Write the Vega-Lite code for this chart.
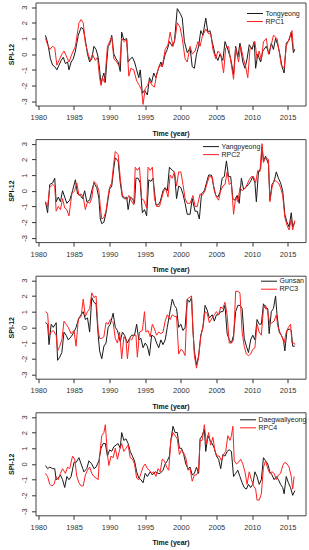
{
"$schema": "https://vega.github.io/schema/vega-lite/v6.json",
"padding": {"left": 6.5, "top": 1.5, "right": 4, "bottom": 0},
"background": "white",
"spacing": 1.6,
"datasets": {
"p1": [
{"s":"Tongyeong","t":1981.0,"v":1.2},{"s":"Tongyeong","t":1981.2,"v":0.9},{"s":"Tongyeong","t":1981.4,"v":0.5},{"s":"Tongyeong","t":1981.7,"v":-0.3},{"s":"Tongyeong","t":1982.0,"v":-0.7},{"s":"Tongyeong","t":1982.3,"v":-0.8},{"s":"Tongyeong","t":1982.6,"v":-1.0},{"s":"Tongyeong","t":1982.9,"v":-0.7},{"s":"Tongyeong","t":1983.2,"v":-0.4},{"s":"Tongyeong","t":1983.5,"v":-0.2},{"s":"Tongyeong","t":1983.8,"v":-0.6},{"s":"Tongyeong","t":1984.1,"v":-0.5},{"s":"Tongyeong","t":1984.3,"v":-1.0},{"s":"Tongyeong","t":1984.6,"v":-0.5},{"s":"Tongyeong","t":1984.9,"v":-0.3},{"s":"Tongyeong","t":1985.2,"v":0.2},{"s":"Tongyeong","t":1985.6,"v":1.2},{"s":"Tongyeong","t":1986.0,"v":1.7},{"s":"Tongyeong","t":1986.3,"v":1.6},{"s":"Tongyeong","t":1986.6,"v":0.9},{"s":"Tongyeong","t":1986.9,"v":0.0},{"s":"Tongyeong","t":1987.2,"v":-0.5},{"s":"Tongyeong","t":1987.5,"v":-0.3},{"s":"Tongyeong","t":1987.8,"v":0.5},{"s":"Tongyeong","t":1988.1,"v":0.3},{"s":"Tongyeong","t":1988.4,"v":-0.2},{"s":"Tongyeong","t":1988.6,"v":-1.0},{"s":"Tongyeong","t":1988.8,"v":-1.9},{"s":"Tongyeong","t":1989.0,"v":-1.5},{"s":"Tongyeong","t":1989.2,"v":-1.2},{"s":"Tongyeong","t":1989.4,"v":-1.8},{"s":"Tongyeong","t":1989.6,"v":-0.5},{"s":"Tongyeong","t":1989.8,"v":0.5},{"s":"Tongyeong","t":1990.0,"v":0.6},{"s":"Tongyeong","t":1990.3,"v":1.2},{"s":"Tongyeong","t":1990.6,"v":0.0},{"s":"Tongyeong","t":1990.9,"v":-0.3},{"s":"Tongyeong","t":1991.2,"v":-0.5},{"s":"Tongyeong","t":1991.5,"v":-1.1},{"s":"Tongyeong","t":1991.7,"v":1.4},{"s":"Tongyeong","t":1992.0,"v":0.9},{"s":"Tongyeong","t":1992.4,"v":1.0},{"s":"Tongyeong","t":1992.6,"v":-0.5},{"s":"Tongyeong","t":1992.9,"v":-0.3},{"s":"Tongyeong","t":1993.2,"v":-0.2},{"s":"Tongyeong","t":1993.5,"v":-0.5},{"s":"Tongyeong","t":1993.8,"v":-1.0},{"s":"Tongyeong","t":1994.1,"v":-1.5},{"s":"Tongyeong","t":1994.3,"v":-1.0},{"s":"Tongyeong","t":1994.6,"v":-2.5},{"s":"Tongyeong","t":1994.9,"v":-2.3},{"s":"Tongyeong","t":1995.3,"v":-2.6},{"s":"Tongyeong","t":1995.6,"v":-1.5},{"s":"Tongyeong","t":1995.9,"v":-1.8},{"s":"Tongyeong","t":1996.2,"v":-1.2},{"s":"Tongyeong","t":1996.5,"v":-1.5},{"s":"Tongyeong","t":1996.8,"v":-1.0},{"s":"Tongyeong","t":1997.2,"v":-0.5},{"s":"Tongyeong","t":1997.4,"v":-0.8},{"s":"Tongyeong","t":1997.8,"v":0.0},{"s":"Tongyeong","t":1998.1,"v":0.3},{"s":"Tongyeong","t":1998.4,"v":0.8},{"s":"Tongyeong","t":1998.8,"v":0.5},{"s":"Tongyeong","t":1999.1,"v":0.8},{"s":"Tongyeong","t":1999.5,"v":2.9},{"s":"Tongyeong","t":1999.9,"v":2.6},{"s":"Tongyeong","t":2000.2,"v":2.3},{"s":"Tongyeong","t":2000.5,"v":0.8},{"s":"Tongyeong","t":2000.9,"v":0.1},{"s":"Tongyeong","t":2001.3,"v":0.4},{"s":"Tongyeong","t":2001.6,"v":-0.8},{"s":"Tongyeong","t":2001.9,"v":-0.9},{"s":"Tongyeong","t":2002.2,"v":0.0},{"s":"Tongyeong","t":2002.5,"v":0.5},{"s":"Tongyeong","t":2002.8,"v":1.5},{"s":"Tongyeong","t":2003.1,"v":1.2},{"s":"Tongyeong","t":2003.5,"v":2.3},{"s":"Tongyeong","t":2003.8,"v":1.4},{"s":"Tongyeong","t":2004.1,"v":1.5},{"s":"Tongyeong","t":2004.4,"v":0.8},{"s":"Tongyeong","t":2004.8,"v":0.0},{"s":"Tongyeong","t":2005.2,"v":-0.4},{"s":"Tongyeong","t":2005.5,"v":0.0},{"s":"Tongyeong","t":2005.9,"v":-0.4},{"s":"Tongyeong","t":2006.2,"v":0.8},{"s":"Tongyeong","t":2006.6,"v":0.3},{"s":"Tongyeong","t":2007.0,"v":-0.3},{"s":"Tongyeong","t":2007.4,"v":-1.3},{"s":"Tongyeong","t":2007.7,"v":0.5},{"s":"Tongyeong","t":2008.0,"v":-0.2},{"s":"Tongyeong","t":2008.3,"v":0.7},{"s":"Tongyeong","t":2008.7,"v":-0.5},{"s":"Tongyeong","t":2009.0,"v":-0.9},{"s":"Tongyeong","t":2009.3,"v":-0.3},{"s":"Tongyeong","t":2009.6,"v":0.6},{"s":"Tongyeong","t":2010.0,"v":0.3},{"s":"Tongyeong","t":2010.3,"v":0.8},{"s":"Tongyeong","t":2010.5,"v":-0.9},{"s":"Tongyeong","t":2010.8,"v":0.0},{"s":"Tongyeong","t":2011.2,"v":-0.5},{"s":"Tongyeong","t":2011.5,"v":0.2},{"s":"Tongyeong","t":2012.0,"v":0.5},{"s":"Tongyeong","t":2012.4,"v":0.0},{"s":"Tongyeong","t":2012.7,"v":0.7},{"s":"Tongyeong","t":2013.0,"v":0.3},{"s":"Tongyeong","t":2013.3,"v":1.0},{"s":"Tongyeong","t":2013.6,"v":0.6},{"s":"Tongyeong","t":2013.9,"v":0.0},{"s":"Tongyeong","t":2014.2,"v":-0.8},{"s":"Tongyeong","t":2014.5,"v":-1.2},{"s":"Tongyeong","t":2014.8,"v":0.7},{"s":"Tongyeong","t":2015.2,"v":0.9},{"s":"Tongyeong","t":2015.5,"v":1.4},{"s":"Tongyeong","t":2015.8,"v":0.1},{"s":"Tongyeong","t":2016.0,"v":0.3},
{"s":"RPC1","t":1981.0,"v":1.0},{"s":"RPC1","t":1981.3,"v":0.6},{"s":"RPC1","t":1981.6,"v":0.3},{"s":"RPC1","t":1982.0,"v":0.5},{"s":"RPC1","t":1982.3,"v":0.4},{"s":"RPC1","t":1982.6,"v":-0.7},{"s":"RPC1","t":1982.9,"v":-0.4},{"s":"RPC1","t":1983.3,"v":0.0},{"s":"RPC1","t":1983.6,"v":0.2},{"s":"RPC1","t":1984.0,"v":-0.2},{"s":"RPC1","t":1984.3,"v":-0.5},{"s":"RPC1","t":1984.7,"v":0.0},{"s":"RPC1","t":1985.2,"v":0.5},{"s":"RPC1","t":1985.7,"v":2.0},{"s":"RPC1","t":1986.0,"v":2.2},{"s":"RPC1","t":1986.3,"v":2.0},{"s":"RPC1","t":1986.6,"v":0.7},{"s":"RPC1","t":1987.0,"v":0.0},{"s":"RPC1","t":1987.3,"v":-0.4},{"s":"RPC1","t":1987.6,"v":0.0},{"s":"RPC1","t":1988.0,"v":-0.4},{"s":"RPC1","t":1988.3,"v":-0.2},{"s":"RPC1","t":1988.6,"v":-1.5},{"s":"RPC1","t":1988.8,"v":-2.0},{"s":"RPC1","t":1989.0,"v":-1.5},{"s":"RPC1","t":1989.3,"v":-1.8},{"s":"RPC1","t":1989.7,"v":0.5},{"s":"RPC1","t":1990.0,"v":0.8},{"s":"RPC1","t":1990.3,"v":1.1},{"s":"RPC1","t":1990.6,"v":-0.3},{"s":"RPC1","t":1991.0,"v":-0.5},{"s":"RPC1","t":1991.4,"v":-0.8},{"s":"RPC1","t":1991.7,"v":1.0},{"s":"RPC1","t":1992.0,"v":0.8},{"s":"RPC1","t":1992.4,"v":0.9},{"s":"RPC1","t":1992.7,"v":-1.4},{"s":"RPC1","t":1993.0,"v":-0.9},{"s":"RPC1","t":1993.4,"v":-1.0},{"s":"RPC1","t":1993.8,"v":-1.7},{"s":"RPC1","t":1994.2,"v":-2.0},{"s":"RPC1","t":1994.5,"v":-2.3},{"s":"RPC1","t":1994.7,"v":-3.2},{"s":"RPC1","t":1995.0,"v":-2.2},{"s":"RPC1","t":1995.3,"v":-2.0},{"s":"RPC1","t":1995.6,"v":-1.7},{"s":"RPC1","t":1996.0,"v":-2.0},{"s":"RPC1","t":1996.3,"v":-2.1},{"s":"RPC1","t":1996.6,"v":-1.3},{"s":"RPC1","t":1997.0,"v":-0.7},{"s":"RPC1","t":1997.4,"v":-0.8},{"s":"RPC1","t":1997.8,"v":0.3},{"s":"RPC1","t":1998.2,"v":0.6},{"s":"RPC1","t":1998.5,"v":1.4},{"s":"RPC1","t":1998.9,"v":0.5},{"s":"RPC1","t":1999.2,"v":1.0},{"s":"RPC1","t":1999.5,"v":2.0},{"s":"RPC1","t":1999.9,"v":1.7},{"s":"RPC1","t":2000.2,"v":1.0},{"s":"RPC1","t":2000.6,"v":-0.3},{"s":"RPC1","t":2000.9,"v":-0.5},{"s":"RPC1","t":2001.3,"v":0.5},{"s":"RPC1","t":2001.6,"v":0.0},{"s":"RPC1","t":2002.0,"v":0.2},{"s":"RPC1","t":2002.4,"v":0.8},{"s":"RPC1","t":2002.7,"v":0.5},{"s":"RPC1","t":2003.0,"v":1.1},{"s":"RPC1","t":2003.5,"v":1.6},{"s":"RPC1","t":2003.9,"v":1.3},{"s":"RPC1","t":2004.2,"v":1.3},{"s":"RPC1","t":2004.5,"v":0.3},{"s":"RPC1","t":2004.9,"v":-0.3},{"s":"RPC1","t":2005.2,"v":0.2},{"s":"RPC1","t":2005.6,"v":0.0},{"s":"RPC1","t":2006.0,"v":-1.2},{"s":"RPC1","t":2006.3,"v":0.4},{"s":"RPC1","t":2006.7,"v":0.5},{"s":"RPC1","t":2007.0,"v":-0.4},{"s":"RPC1","t":2007.4,"v":-1.6},{"s":"RPC1","t":2007.7,"v":0.4},{"s":"RPC1","t":2008.1,"v":-0.5},{"s":"RPC1","t":2008.4,"v":0.5},{"s":"RPC1","t":2008.8,"v":-0.3},{"s":"RPC1","t":2009.1,"v":-0.8},{"s":"RPC1","t":2009.4,"v":-1.5},{"s":"RPC1","t":2009.7,"v":0.3},{"s":"RPC1","t":2010.1,"v":0.5},{"s":"RPC1","t":2010.4,"v":0.8},{"s":"RPC1","t":2010.7,"v":-0.3},{"s":"RPC1","t":2011.0,"v":0.2},{"s":"RPC1","t":2011.3,"v":-0.4},{"s":"RPC1","t":2011.6,"v":0.8},{"s":"RPC1","t":2012.0,"v":1.0},{"s":"RPC1","t":2012.3,"v":0.0},{"s":"RPC1","t":2012.7,"v":0.6},{"s":"RPC1","t":2013.0,"v":1.2},{"s":"RPC1","t":2013.5,"v":1.0},{"s":"RPC1","t":2013.8,"v":0.2},{"s":"RPC1","t":2014.1,"v":-0.7},{"s":"RPC1","t":2014.5,"v":-0.9},{"s":"RPC1","t":2014.8,"v":0.5},{"s":"RPC1","t":2015.3,"v":1.1},{"s":"RPC1","t":2015.6,"v":1.5},{"s":"RPC1","t":2015.8,"v":0.3},{"s":"RPC1","t":2016.0,"v":0.3}
],
"p2": [
{"s":"Yangpyeong","t":1981.0,"v":-0.7},{"s":"Yangpyeong","t":1981.3,"v":-1.4},{"s":"Yangpyeong","t":1981.6,"v":0.4},{"s":"Yangpyeong","t":1982.0,"v":0.5},{"s":"Yangpyeong","t":1982.3,"v":0.8},{"s":"Yangpyeong","t":1982.5,"v":-0.7},{"s":"Yangpyeong","t":1982.8,"v":-0.4},{"s":"Yangpyeong","t":1983.1,"v":-0.7},{"s":"Yangpyeong","t":1983.4,"v":0.0},{"s":"Yangpyeong","t":1983.7,"v":-0.4},{"s":"Yangpyeong","t":1984.0,"v":-0.8},{"s":"Yangpyeong","t":1984.4,"v":-0.6},{"s":"Yangpyeong","t":1984.8,"v":0.0},{"s":"Yangpyeong","t":1985.2,"v":0.7},{"s":"Yangpyeong","t":1985.5,"v":-0.2},{"s":"Yangpyeong","t":1985.9,"v":-0.3},{"s":"Yangpyeong","t":1986.2,"v":-0.5},{"s":"Yangpyeong","t":1986.5,"v":0.0},{"s":"Yangpyeong","t":1986.8,"v":-0.7},{"s":"Yangpyeong","t":1987.2,"v":-0.6},{"s":"Yangpyeong","t":1987.5,"v":0.0},{"s":"Yangpyeong","t":1987.8,"v":0.5},{"s":"Yangpyeong","t":1988.2,"v":0.2},{"s":"Yangpyeong","t":1988.5,"v":-0.5},{"s":"Yangpyeong","t":1988.7,"v":-1.8},{"s":"Yangpyeong","t":1988.9,"v":-2.1},{"s":"Yangpyeong","t":1989.2,"v":-2.0},{"s":"Yangpyeong","t":1989.5,"v":-1.4},{"s":"Yangpyeong","t":1989.8,"v":-0.5},{"s":"Yangpyeong","t":1990.0,"v":0.1},{"s":"Yangpyeong","t":1990.3,"v":0.3},{"s":"Yangpyeong","t":1990.6,"v":1.5},{"s":"Yangpyeong","t":1990.8,"v":2.1},{"s":"Yangpyeong","t":1991.2,"v":1.9},{"s":"Yangpyeong","t":1991.5,"v":0.5},{"s":"Yangpyeong","t":1991.8,"v":-0.4},{"s":"Yangpyeong","t":1992.1,"v":-0.5},{"s":"Yangpyeong","t":1992.4,"v":-0.4},{"s":"Yangpyeong","t":1992.6,"v":-1.2},{"s":"Yangpyeong","t":1992.9,"v":-0.4},{"s":"Yangpyeong","t":1993.2,"v":-0.5},{"s":"Yangpyeong","t":1993.5,"v":-0.8},{"s":"Yangpyeong","t":1993.7,"v":0.8},{"s":"Yangpyeong","t":1994.0,"v":0.8},{"s":"Yangpyeong","t":1994.3,"v":0.5},{"s":"Yangpyeong","t":1994.6,"v":-1.4},{"s":"Yangpyeong","t":1994.9,"v":-1.2},{"s":"Yangpyeong","t":1995.2,"v":-1.6},{"s":"Yangpyeong","t":1995.5,"v":0.7},{"s":"Yangpyeong","t":1995.8,"v":0.6},{"s":"Yangpyeong","t":1996.1,"v":0.8},{"s":"Yangpyeong","t":1996.5,"v":-0.9},{"s":"Yangpyeong","t":1996.8,"v":-0.9},{"s":"Yangpyeong","t":1997.1,"v":-0.7},{"s":"Yangpyeong","t":1997.5,"v":0.0},{"s":"Yangpyeong","t":1997.8,"v":0.2},{"s":"Yangpyeong","t":1998.1,"v":0.0},{"s":"Yangpyeong","t":1998.4,"v":1.5},{"s":"Yangpyeong","t":1998.8,"v":1.3},{"s":"Yangpyeong","t":1999.1,"v":1.2},{"s":"Yangpyeong","t":1999.4,"v":-0.5},{"s":"Yangpyeong","t":1999.7,"v":0.3},{"s":"Yangpyeong","t":2000.0,"v":0.2},{"s":"Yangpyeong","t":2000.3,"v":-0.2},{"s":"Yangpyeong","t":2000.6,"v":-0.8},{"s":"Yangpyeong","t":2000.9,"v":-1.5},{"s":"Yangpyeong","t":2001.3,"v":-1.5},{"s":"Yangpyeong","t":2001.6,"v":-0.5},{"s":"Yangpyeong","t":2002.0,"v":-1.3},{"s":"Yangpyeong","t":2002.3,"v":-1.3},{"s":"Yangpyeong","t":2002.6,"v":-1.8},{"s":"Yangpyeong","t":2002.9,"v":-0.2},{"s":"Yangpyeong","t":2003.3,"v":0.0},{"s":"Yangpyeong","t":2003.6,"v":0.5},{"s":"Yangpyeong","t":2003.9,"v":1.0},{"s":"Yangpyeong","t":2004.3,"v":1.0},{"s":"Yangpyeong","t":2004.6,"v":0.3},{"s":"Yangpyeong","t":2004.9,"v":-0.3},{"s":"Yangpyeong","t":2005.2,"v":-0.4},{"s":"Yangpyeong","t":2005.5,"v":-0.1},{"s":"Yangpyeong","t":2005.8,"v":0.8},{"s":"Yangpyeong","t":2006.1,"v":0.9},{"s":"Yangpyeong","t":2006.4,"v":1.9},{"s":"Yangpyeong","t":2006.7,"v":0.9},{"s":"Yangpyeong","t":2007.0,"v":0.9},{"s":"Yangpyeong","t":2007.3,"v":-0.5},{"s":"Yangpyeong","t":2007.6,"v":-0.6},{"s":"Yangpyeong","t":2007.9,"v":-0.3},{"s":"Yangpyeong","t":2008.2,"v":-0.8},{"s":"Yangpyeong","t":2008.5,"v":0.8},{"s":"Yangpyeong","t":2008.8,"v":0.1},{"s":"Yangpyeong","t":2009.1,"v":0.2},{"s":"Yangpyeong","t":2009.5,"v":0.4},{"s":"Yangpyeong","t":2009.8,"v":0.6},{"s":"Yangpyeong","t":2010.1,"v":0.9},{"s":"Yangpyeong","t":2010.4,"v":0.5},{"s":"Yangpyeong","t":2010.6,"v":-0.7},{"s":"Yangpyeong","t":2010.9,"v":1.2},{"s":"Yangpyeong","t":2011.2,"v":1.4},{"s":"Yangpyeong","t":2011.4,"v":2.8},{"s":"Yangpyeong","t":2011.6,"v":1.9},{"s":"Yangpyeong","t":2011.9,"v":2.2},{"s":"Yangpyeong","t":2012.3,"v":1.7},{"s":"Yangpyeong","t":2012.5,"v":-0.6},{"s":"Yangpyeong","t":2012.8,"v":0.4},{"s":"Yangpyeong","t":2013.1,"v":0.6},{"s":"Yangpyeong","t":2013.4,"v":1.2},{"s":"Yangpyeong","t":2013.7,"v":0.8},{"s":"Yangpyeong","t":2014.0,"v":0.5},{"s":"Yangpyeong","t":2014.3,"v":0.0},{"s":"Yangpyeong","t":2014.6,"v":-1.5},{"s":"Yangpyeong","t":2014.9,"v":-2.0},{"s":"Yangpyeong","t":2015.2,"v":-2.3},{"s":"Yangpyeong","t":2015.5,"v":-1.4},{"s":"Yangpyeong","t":2015.7,"v":-2.3},{"s":"Yangpyeong","t":2016.0,"v":-2.0},
{"s":"RPC2","t":1981.0,"v":-0.7},{"s":"RPC2","t":1981.3,"v":-1.0},{"s":"RPC2","t":1981.6,"v":0.2},{"s":"RPC2","t":1982.0,"v":0.4},{"s":"RPC2","t":1982.3,"v":0.3},{"s":"RPC2","t":1982.5,"v":-1.3},{"s":"RPC2","t":1982.8,"v":-1.0},{"s":"RPC2","t":1983.1,"v":-1.2},{"s":"RPC2","t":1983.4,"v":-0.5},{"s":"RPC2","t":1983.7,"v":-1.1},{"s":"RPC2","t":1984.0,"v":-1.2},{"s":"RPC2","t":1984.3,"v":-1.6},{"s":"RPC2","t":1984.7,"v":-0.2},{"s":"RPC2","t":1985.1,"v":0.0},{"s":"RPC2","t":1985.4,"v":0.5},{"s":"RPC2","t":1985.7,"v":-0.3},{"s":"RPC2","t":1986.0,"v":-0.2},{"s":"RPC2","t":1986.3,"v":-0.4},{"s":"RPC2","t":1986.6,"v":-1.2},{"s":"RPC2","t":1986.9,"v":-0.7},{"s":"RPC2","t":1987.2,"v":-0.8},{"s":"RPC2","t":1987.5,"v":-0.5},{"s":"RPC2","t":1987.8,"v":0.6},{"s":"RPC2","t":1988.2,"v":0.4},{"s":"RPC2","t":1988.5,"v":0.0},{"s":"RPC2","t":1988.7,"v":-1.0},{"s":"RPC2","t":1988.9,"v":-1.8},{"s":"RPC2","t":1989.2,"v":-1.7},{"s":"RPC2","t":1989.5,"v":-1.3},{"s":"RPC2","t":1989.8,"v":-0.3},{"s":"RPC2","t":1990.0,"v":0.2},{"s":"RPC2","t":1990.3,"v":0.5},{"s":"RPC2","t":1990.6,"v":1.8},{"s":"RPC2","t":1990.8,"v":2.5},{"s":"RPC2","t":1991.2,"v":2.3},{"s":"RPC2","t":1991.5,"v":0.8},{"s":"RPC2","t":1991.8,"v":-0.3},{"s":"RPC2","t":1992.1,"v":-0.4},{"s":"RPC2","t":1992.4,"v":-0.6},{"s":"RPC2","t":1992.7,"v":-0.3},{"s":"RPC2","t":1993.0,"v":-0.6},{"s":"RPC2","t":1993.4,"v":-0.9},{"s":"RPC2","t":1993.6,"v":1.5},{"s":"RPC2","t":1993.9,"v":1.3},{"s":"RPC2","t":1994.2,"v":1.5},{"s":"RPC2","t":1994.5,"v":-0.5},{"s":"RPC2","t":1994.8,"v":-0.6},{"s":"RPC2","t":1995.2,"v":-1.1},{"s":"RPC2","t":1995.4,"v":1.5},{"s":"RPC2","t":1995.7,"v":1.3},{"s":"RPC2","t":1996.0,"v":1.5},{"s":"RPC2","t":1996.3,"v":-0.5},{"s":"RPC2","t":1996.6,"v":-1.0},{"s":"RPC2","t":1997.0,"v":-1.0},{"s":"RPC2","t":1997.3,"v":-0.5},{"s":"RPC2","t":1997.6,"v":0.0},{"s":"RPC2","t":1997.9,"v":0.1},{"s":"RPC2","t":1998.2,"v":-0.4},{"s":"RPC2","t":1998.5,"v":1.0},{"s":"RPC2","t":1998.8,"v":0.8},{"s":"RPC2","t":1999.1,"v":1.2},{"s":"RPC2","t":1999.4,"v":0.3},{"s":"RPC2","t":1999.7,"v":1.2},{"s":"RPC2","t":2000.0,"v":1.2},{"s":"RPC2","t":2000.3,"v":0.4},{"s":"RPC2","t":2000.6,"v":-0.5},{"s":"RPC2","t":2000.9,"v":-0.8},{"s":"RPC2","t":2001.3,"v":-0.8},{"s":"RPC2","t":2001.7,"v":-0.3},{"s":"RPC2","t":2002.0,"v":-1.0},{"s":"RPC2","t":2002.3,"v":-1.0},{"s":"RPC2","t":2002.7,"v":-0.2},{"s":"RPC2","t":2003.0,"v":-0.3},{"s":"RPC2","t":2003.4,"v":0.0},{"s":"RPC2","t":2003.7,"v":0.5},{"s":"RPC2","t":2004.0,"v":0.9},{"s":"RPC2","t":2004.4,"v":0.9},{"s":"RPC2","t":2004.7,"v":0.0},{"s":"RPC2","t":2005.0,"v":-0.4},{"s":"RPC2","t":2005.3,"v":-0.6},{"s":"RPC2","t":2005.6,"v":0.0},{"s":"RPC2","t":2005.9,"v":0.3},{"s":"RPC2","t":2006.2,"v":0.4},{"s":"RPC2","t":2006.5,"v":1.2},{"s":"RPC2","t":2006.8,"v":0.4},{"s":"RPC2","t":2007.1,"v":0.5},{"s":"RPC2","t":2007.4,"v":-1.5},{"s":"RPC2","t":2007.7,"v":-0.4},{"s":"RPC2","t":2008.0,"v":-0.7},{"s":"RPC2","t":2008.3,"v":0.2},{"s":"RPC2","t":2008.6,"v":0.0},{"s":"RPC2","t":2008.9,"v":0.1},{"s":"RPC2","t":2009.2,"v":0.3},{"s":"RPC2","t":2009.6,"v":0.7},{"s":"RPC2","t":2009.9,"v":0.9},{"s":"RPC2","t":2010.2,"v":0.9},{"s":"RPC2","t":2010.5,"v":0.5},{"s":"RPC2","t":2010.8,"v":1.3},{"s":"RPC2","t":2011.1,"v":1.2},{"s":"RPC2","t":2011.4,"v":3.0},{"s":"RPC2","t":2011.6,"v":1.8},{"s":"RPC2","t":2011.9,"v":2.1},{"s":"RPC2","t":2012.3,"v":2.0},{"s":"RPC2","t":2012.5,"v":-0.7},{"s":"RPC2","t":2012.8,"v":0.2},{"s":"RPC2","t":2013.1,"v":0.7},{"s":"RPC2","t":2013.4,"v":0.6},{"s":"RPC2","t":2013.7,"v":0.5},{"s":"RPC2","t":2014.0,"v":0.2},{"s":"RPC2","t":2014.3,"v":-0.3},{"s":"RPC2","t":2014.6,"v":-1.7},{"s":"RPC2","t":2014.9,"v":-2.2},{"s":"RPC2","t":2015.2,"v":-2.5},{"s":"RPC2","t":2015.5,"v":-1.8},{"s":"RPC2","t":2015.7,"v":-2.5},{"s":"RPC2","t":2016.0,"v":-1.9}
],
"p3": [
{"s":"Gunsan","t":1981.0,"v":0.3},{"s":"Gunsan","t":1981.3,"v":0.2},{"s":"Gunsan","t":1981.5,"v":-1.1},{"s":"Gunsan","t":1981.8,"v":0.2},{"s":"Gunsan","t":1982.1,"v":0.0},{"s":"Gunsan","t":1982.5,"v":0.3},{"s":"Gunsan","t":1982.7,"v":-2.1},{"s":"Gunsan","t":1983.0,"v":-1.9},{"s":"Gunsan","t":1983.3,"v":-1.6},{"s":"Gunsan","t":1983.6,"v":-0.3},{"s":"Gunsan","t":1983.9,"v":-0.5},{"s":"Gunsan","t":1984.2,"v":-0.8},{"s":"Gunsan","t":1984.6,"v":-0.6},{"s":"Gunsan","t":1985.0,"v":-0.3},{"s":"Gunsan","t":1985.3,"v":0.0},{"s":"Gunsan","t":1985.7,"v":0.6},{"s":"Gunsan","t":1986.0,"v":0.8},{"s":"Gunsan","t":1986.3,"v":1.0},{"s":"Gunsan","t":1986.6,"v":0.5},{"s":"Gunsan","t":1986.9,"v":0.6},{"s":"Gunsan","t":1987.2,"v":-0.3},{"s":"Gunsan","t":1987.5,"v":1.9},{"s":"Gunsan","t":1987.8,"v":1.6},{"s":"Gunsan","t":1988.1,"v":1.5},{"s":"Gunsan","t":1988.4,"v":-0.5},{"s":"Gunsan","t":1988.6,"v":-1.5},{"s":"Gunsan","t":1988.9,"v":-2.0},{"s":"Gunsan","t":1989.2,"v":-1.2},{"s":"Gunsan","t":1989.5,"v":-1.0},{"s":"Gunsan","t":1989.8,"v":0.0},{"s":"Gunsan","t":1990.1,"v":0.2},{"s":"Gunsan","t":1990.5,"v":0.9},{"s":"Gunsan","t":1990.8,"v":0.0},{"s":"Gunsan","t":1991.1,"v":-0.2},{"s":"Gunsan","t":1991.5,"v":-0.9},{"s":"Gunsan","t":1991.8,"v":-0.3},{"s":"Gunsan","t":1992.1,"v":-0.5},{"s":"Gunsan","t":1992.5,"v":-1.0},{"s":"Gunsan","t":1992.8,"v":-0.7},{"s":"Gunsan","t":1993.1,"v":-0.5},{"s":"Gunsan","t":1993.5,"v":-0.5},{"s":"Gunsan","t":1993.8,"v":0.2},{"s":"Gunsan","t":1994.1,"v":-0.8},{"s":"Gunsan","t":1994.4,"v":-0.7},{"s":"Gunsan","t":1994.7,"v":-1.3},{"s":"Gunsan","t":1995.0,"v":-1.0},{"s":"Gunsan","t":1995.3,"v":-1.2},{"s":"Gunsan","t":1995.6,"v":-1.8},{"s":"Gunsan","t":1995.9,"v":-0.5},{"s":"Gunsan","t":1996.3,"v":-0.6},{"s":"Gunsan","t":1996.6,"v":-1.0},{"s":"Gunsan","t":1996.9,"v":-1.3},{"s":"Gunsan","t":1997.2,"v":-0.8},{"s":"Gunsan","t":1997.5,"v":-1.1},{"s":"Gunsan","t":1997.8,"v":-0.8},{"s":"Gunsan","t":1998.1,"v":0.0},{"s":"Gunsan","t":1998.4,"v":0.8},{"s":"Gunsan","t":1998.8,"v":1.8},{"s":"Gunsan","t":1999.1,"v":1.4},{"s":"Gunsan","t":1999.4,"v":1.2},{"s":"Gunsan","t":1999.7,"v":0.0},{"s":"Gunsan","t":2000.0,"v":0.2},{"s":"Gunsan","t":2000.3,"v":-0.2},{"s":"Gunsan","t":2000.6,"v":0.0},{"s":"Gunsan","t":2000.9,"v":1.8},{"s":"Gunsan","t":2001.2,"v":1.6},{"s":"Gunsan","t":2001.5,"v":1.9},{"s":"Gunsan","t":2001.7,"v":-0.2},{"s":"Gunsan","t":2001.9,"v":-1.5},{"s":"Gunsan","t":2002.2,"v":-2.4},{"s":"Gunsan","t":2002.5,"v":-1.8},{"s":"Gunsan","t":2002.8,"v":-0.5},{"s":"Gunsan","t":2003.1,"v":0.0},{"s":"Gunsan","t":2003.4,"v":1.4},{"s":"Gunsan","t":2003.7,"v":1.1},{"s":"Gunsan","t":2004.0,"v":0.6},{"s":"Gunsan","t":2004.4,"v":0.8},{"s":"Gunsan","t":2004.7,"v":0.4},{"s":"Gunsan","t":2005.0,"v":0.8},{"s":"Gunsan","t":2005.3,"v":0.8},{"s":"Gunsan","t":2005.6,"v":1.0},{"s":"Gunsan","t":2005.9,"v":1.0},{"s":"Gunsan","t":2006.2,"v":1.4},{"s":"Gunsan","t":2006.5,"v":-0.4},{"s":"Gunsan","t":2006.8,"v":-0.8},{"s":"Gunsan","t":2007.1,"v":-1.0},{"s":"Gunsan","t":2007.4,"v":-0.5},{"s":"Gunsan","t":2007.7,"v":1.0},{"s":"Gunsan","t":2008.0,"v":1.4},{"s":"Gunsan","t":2008.3,"v":1.4},{"s":"Gunsan","t":2008.6,"v":1.2},{"s":"Gunsan","t":2008.9,"v":-0.7},{"s":"Gunsan","t":2009.2,"v":-1.2},{"s":"Gunsan","t":2009.5,"v":-1.6},{"s":"Gunsan","t":2009.8,"v":-0.8},{"s":"Gunsan","t":2010.1,"v":-0.5},{"s":"Gunsan","t":2010.4,"v":-0.8},{"s":"Gunsan","t":2010.7,"v":0.5},{"s":"Gunsan","t":2011.0,"v":0.2},{"s":"Gunsan","t":2011.3,"v":0.2},{"s":"Gunsan","t":2011.6,"v":1.5},{"s":"Gunsan","t":2011.9,"v":1.2},{"s":"Gunsan","t":2012.2,"v":1.2},{"s":"Gunsan","t":2012.4,"v":-0.4},{"s":"Gunsan","t":2012.7,"v":1.0},{"s":"Gunsan","t":2013.0,"v":1.2},{"s":"Gunsan","t":2013.3,"v":2.0},{"s":"Gunsan","t":2013.5,"v":0.8},{"s":"Gunsan","t":2013.8,"v":-0.3},{"s":"Gunsan","t":2014.1,"v":-0.5},{"s":"Gunsan","t":2014.4,"v":-0.8},{"s":"Gunsan","t":2014.6,"v":-1.5},{"s":"Gunsan","t":2014.9,"v":-0.2},{"s":"Gunsan","t":2015.2,"v":-0.1},{"s":"Gunsan","t":2015.5,"v":-0.2},{"s":"Gunsan","t":2015.7,"v":-1.2},{"s":"Gunsan","t":2016.0,"v":-1.2},
{"s":"RPC3","t":1981.0,"v":1.0},{"s":"RPC3","t":1981.3,"v":0.9},{"s":"RPC3","t":1981.5,"v":-0.5},{"s":"RPC3","t":1981.8,"v":-0.3},{"s":"RPC3","t":1982.1,"v":-0.2},{"s":"RPC3","t":1982.5,"v":-0.5},{"s":"RPC3","t":1982.7,"v":-1.5},{"s":"RPC3","t":1983.0,"v":-1.2},{"s":"RPC3","t":1983.3,"v":-0.8},{"s":"RPC3","t":1983.6,"v":0.4},{"s":"RPC3","t":1983.9,"v":0.2},{"s":"RPC3","t":1984.2,"v":0.0},{"s":"RPC3","t":1984.6,"v":-0.4},{"s":"RPC3","t":1985.0,"v":-0.2},{"s":"RPC3","t":1985.3,"v":-1.2},{"s":"RPC3","t":1985.6,"v":0.5},{"s":"RPC3","t":1986.0,"v":0.7},{"s":"RPC3","t":1986.3,"v":1.8},{"s":"RPC3","t":1986.6,"v":0.7},{"s":"RPC3","t":1986.9,"v":1.0},{"s":"RPC3","t":1987.2,"v":1.2},{"s":"RPC3","t":1987.5,"v":2.2},{"s":"RPC3","t":1987.8,"v":1.9},{"s":"RPC3","t":1988.1,"v":2.0},{"s":"RPC3","t":1988.4,"v":-0.2},{"s":"RPC3","t":1988.6,"v":-0.7},{"s":"RPC3","t":1988.9,"v":-0.7},{"s":"RPC3","t":1989.2,"v":-0.6},{"s":"RPC3","t":1989.5,"v":0.3},{"s":"RPC3","t":1989.8,"v":0.2},{"s":"RPC3","t":1990.1,"v":0.5},{"s":"RPC3","t":1990.5,"v":0.3},{"s":"RPC3","t":1990.8,"v":-0.7},{"s":"RPC3","t":1991.1,"v":-1.0},{"s":"RPC3","t":1991.4,"v":-0.3},{"s":"RPC3","t":1991.7,"v":-2.0},{"s":"RPC3","t":1992.0,"v":-0.6},{"s":"RPC3","t":1992.3,"v":-0.8},{"s":"RPC3","t":1992.5,"v":-2.0},{"s":"RPC3","t":1992.8,"v":-0.7},{"s":"RPC3","t":1993.1,"v":-0.8},{"s":"RPC3","t":1993.4,"v":-0.5},{"s":"RPC3","t":1993.7,"v":-0.5},{"s":"RPC3","t":1993.9,"v":-1.9},{"s":"RPC3","t":1994.2,"v":-0.3},{"s":"RPC3","t":1994.6,"v":-0.2},{"s":"RPC3","t":1994.9,"v":1.0},{"s":"RPC3","t":1995.1,"v":-0.3},{"s":"RPC3","t":1995.4,"v":-0.2},{"s":"RPC3","t":1995.7,"v":-0.6},{"s":"RPC3","t":1996.0,"v":0.2},{"s":"RPC3","t":1996.3,"v":-0.1},{"s":"RPC3","t":1996.6,"v":-0.5},{"s":"RPC3","t":1996.9,"v":-0.3},{"s":"RPC3","t":1997.2,"v":-0.4},{"s":"RPC3","t":1997.5,"v":-0.3},{"s":"RPC3","t":1997.8,"v":0.4},{"s":"RPC3","t":1998.1,"v":0.8},{"s":"RPC3","t":1998.5,"v":0.5},{"s":"RPC3","t":1998.8,"v":0.8},{"s":"RPC3","t":1999.1,"v":0.7},{"s":"RPC3","t":1999.4,"v":0.7},{"s":"RPC3","t":1999.7,"v":-1.7},{"s":"RPC3","t":2000.0,"v":-1.4},{"s":"RPC3","t":2000.3,"v":-1.5},{"s":"RPC3","t":2000.6,"v":-1.8},{"s":"RPC3","t":2000.9,"v":1.8},{"s":"RPC3","t":2001.2,"v":1.9},{"s":"RPC3","t":2001.5,"v":2.0},{"s":"RPC3","t":2001.7,"v":-0.1},{"s":"RPC3","t":2001.9,"v":-1.8},{"s":"RPC3","t":2002.2,"v":-2.6},{"s":"RPC3","t":2002.5,"v":-1.9},{"s":"RPC3","t":2002.8,"v":-0.6},{"s":"RPC3","t":2003.1,"v":0.0},{"s":"RPC3","t":2003.4,"v":1.0},{"s":"RPC3","t":2003.7,"v":0.9},{"s":"RPC3","t":2004.0,"v":0.3},{"s":"RPC3","t":2004.4,"v":0.6},{"s":"RPC3","t":2004.7,"v":0.8},{"s":"RPC3","t":2005.0,"v":1.0},{"s":"RPC3","t":2005.3,"v":0.8},{"s":"RPC3","t":2005.6,"v":1.3},{"s":"RPC3","t":2005.9,"v":1.2},{"s":"RPC3","t":2006.2,"v":1.6},{"s":"RPC3","t":2006.5,"v":0.8},{"s":"RPC3","t":2006.8,"v":-1.0},{"s":"RPC3","t":2007.1,"v":-1.0},{"s":"RPC3","t":2007.4,"v":-0.8},{"s":"RPC3","t":2007.7,"v":2.3},{"s":"RPC3","t":2008.0,"v":2.3},{"s":"RPC3","t":2008.3,"v":2.2},{"s":"RPC3","t":2008.6,"v":-0.3},{"s":"RPC3","t":2008.9,"v":-1.2},{"s":"RPC3","t":2009.2,"v":-1.7},{"s":"RPC3","t":2009.5,"v":-1.8},{"s":"RPC3","t":2009.8,"v":-1.7},{"s":"RPC3","t":2010.1,"v":-1.4},{"s":"RPC3","t":2010.4,"v":-1.3},{"s":"RPC3","t":2010.7,"v":0.2},{"s":"RPC3","t":2011.0,"v":-0.3},{"s":"RPC3","t":2011.3,"v":-0.5},{"s":"RPC3","t":2011.6,"v":1.2},{"s":"RPC3","t":2011.9,"v":1.4},{"s":"RPC3","t":2012.2,"v":1.0},{"s":"RPC3","t":2012.5,"v":0.2},{"s":"RPC3","t":2012.8,"v":0.3},{"s":"RPC3","t":2013.1,"v":0.4},{"s":"RPC3","t":2013.4,"v":0.8},{"s":"RPC3","t":2013.6,"v":0.1},{"s":"RPC3","t":2013.9,"v":-0.3},{"s":"RPC3","t":2014.2,"v":-0.6},{"s":"RPC3","t":2014.5,"v":-1.0},{"s":"RPC3","t":2014.8,"v":-0.3},{"s":"RPC3","t":2015.1,"v":0.0},{"s":"RPC3","t":2015.4,"v":0.2},{"s":"RPC3","t":2015.6,"v":-1.0},{"s":"RPC3","t":2015.9,"v":-1.0},{"s":"RPC3","t":2016.0,"v":-1.1}
],
"p4": [
{"s":"Daegwallyeong","t":1981.0,"v":-0.1},{"s":"Daegwallyeong","t":1981.3,"v":-0.3},{"s":"Daegwallyeong","t":1981.6,"v":-0.2},{"s":"Daegwallyeong","t":1982.0,"v":-0.3},{"s":"Daegwallyeong","t":1982.3,"v":-0.3},{"s":"Daegwallyeong","t":1982.5,"v":-1.0},{"s":"Daegwallyeong","t":1982.8,"v":-0.9},{"s":"Daegwallyeong","t":1983.1,"v":-0.7},{"s":"Daegwallyeong","t":1983.4,"v":-1.0},{"s":"Daegwallyeong","t":1983.7,"v":-1.5},{"s":"Daegwallyeong","t":1984.0,"v":-0.8},{"s":"Daegwallyeong","t":1984.3,"v":-1.0},{"s":"Daegwallyeong","t":1984.6,"v":-0.8},{"s":"Daegwallyeong","t":1985.0,"v":0.1},{"s":"Daegwallyeong","t":1985.3,"v":0.1},{"s":"Daegwallyeong","t":1985.7,"v":0.4},{"s":"Daegwallyeong","t":1986.0,"v":0.0},{"s":"Daegwallyeong","t":1986.4,"v":-0.5},{"s":"Daegwallyeong","t":1986.8,"v":-0.3},{"s":"Daegwallyeong","t":1987.1,"v":0.2},{"s":"Daegwallyeong","t":1987.5,"v":0.0},{"s":"Daegwallyeong","t":1987.8,"v":-0.3},{"s":"Daegwallyeong","t":1988.1,"v":-0.2},{"s":"Daegwallyeong","t":1988.5,"v":0.2},{"s":"Daegwallyeong","t":1988.8,"v":1.0},{"s":"Daegwallyeong","t":1989.1,"v":1.3},{"s":"Daegwallyeong","t":1989.4,"v":1.3},{"s":"Daegwallyeong","t":1989.7,"v":0.5},{"s":"Daegwallyeong","t":1990.0,"v":0.9},{"s":"Daegwallyeong","t":1990.3,"v":0.8},{"s":"Daegwallyeong","t":1990.6,"v":1.1},{"s":"Daegwallyeong","t":1990.9,"v":1.2},{"s":"Daegwallyeong","t":1991.2,"v":1.3},{"s":"Daegwallyeong","t":1991.5,"v":1.0},{"s":"Daegwallyeong","t":1991.7,"v":2.0},{"s":"Daegwallyeong","t":1992.0,"v":1.5},{"s":"Daegwallyeong","t":1992.3,"v":1.6},{"s":"Daegwallyeong","t":1992.6,"v":1.3},{"s":"Daegwallyeong","t":1992.9,"v":0.8},{"s":"Daegwallyeong","t":1993.2,"v":0.5},{"s":"Daegwallyeong","t":1993.5,"v":0.2},{"s":"Daegwallyeong","t":1993.8,"v":-0.5},{"s":"Daegwallyeong","t":1994.1,"v":-0.9},{"s":"Daegwallyeong","t":1994.4,"v":-1.0},{"s":"Daegwallyeong","t":1994.7,"v":-1.2},{"s":"Daegwallyeong","t":1995.0,"v":-0.6},{"s":"Daegwallyeong","t":1995.3,"v":-0.8},{"s":"Daegwallyeong","t":1995.7,"v":-0.5},{"s":"Daegwallyeong","t":1996.0,"v":-0.7},{"s":"Daegwallyeong","t":1996.4,"v":-0.5},{"s":"Daegwallyeong","t":1996.8,"v":-0.6},{"s":"Daegwallyeong","t":1997.1,"v":-0.6},{"s":"Daegwallyeong","t":1997.5,"v":-0.4},{"s":"Daegwallyeong","t":1997.8,"v":0.0},{"s":"Daegwallyeong","t":1998.1,"v":0.2},{"s":"Daegwallyeong","t":1998.4,"v":0.5},{"s":"Daegwallyeong","t":1998.6,"v":1.5},{"s":"Daegwallyeong","t":1998.9,"v":2.4},{"s":"Daegwallyeong","t":1999.2,"v":2.0},{"s":"Daegwallyeong","t":1999.5,"v":2.0},{"s":"Daegwallyeong","t":1999.8,"v":1.0},{"s":"Daegwallyeong","t":2000.1,"v":1.0},{"s":"Daegwallyeong","t":2000.4,"v":0.6},{"s":"Daegwallyeong","t":2000.7,"v":0.0},{"s":"Daegwallyeong","t":2001.0,"v":-0.3},{"s":"Daegwallyeong","t":2001.3,"v":-0.2},{"s":"Daegwallyeong","t":2001.6,"v":-0.7},{"s":"Daegwallyeong","t":2001.9,"v":-0.6},{"s":"Daegwallyeong","t":2002.2,"v":-0.2},{"s":"Daegwallyeong","t":2002.5,"v":-0.6},{"s":"Daegwallyeong","t":2002.7,"v":1.6},{"s":"Daegwallyeong","t":2003.0,"v":1.8},{"s":"Daegwallyeong","t":2003.3,"v":2.2},{"s":"Daegwallyeong","t":2003.5,"v":0.8},{"s":"Daegwallyeong","t":2003.8,"v":1.8},{"s":"Daegwallyeong","t":2004.1,"v":1.5},{"s":"Daegwallyeong","t":2004.4,"v":1.3},{"s":"Daegwallyeong","t":2004.7,"v":1.0},{"s":"Daegwallyeong","t":2005.0,"v":0.5},{"s":"Daegwallyeong","t":2005.3,"v":0.3},{"s":"Daegwallyeong","t":2005.6,"v":-0.3},{"s":"Daegwallyeong","t":2005.9,"v":0.6},{"s":"Daegwallyeong","t":2006.2,"v":0.5},{"s":"Daegwallyeong","t":2006.5,"v":0.8},{"s":"Daegwallyeong","t":2006.8,"v":0.9},{"s":"Daegwallyeong","t":2007.1,"v":0.8},{"s":"Daegwallyeong","t":2007.4,"v":-0.8},{"s":"Daegwallyeong","t":2007.7,"v":-0.6},{"s":"Daegwallyeong","t":2008.0,"v":-0.4},{"s":"Daegwallyeong","t":2008.3,"v":-0.8},{"s":"Daegwallyeong","t":2008.6,"v":-1.2},{"s":"Daegwallyeong","t":2008.9,"v":-1.5},{"s":"Daegwallyeong","t":2009.2,"v":-1.6},{"s":"Daegwallyeong","t":2009.5,"v":-1.3},{"s":"Daegwallyeong","t":2009.8,"v":-1.5},{"s":"Daegwallyeong","t":2010.1,"v":-1.3},{"s":"Daegwallyeong","t":2010.4,"v":-0.5},{"s":"Daegwallyeong","t":2010.7,"v":-0.8},{"s":"Daegwallyeong","t":2011.0,"v":-1.3},{"s":"Daegwallyeong","t":2011.3,"v":-1.0},{"s":"Daegwallyeong","t":2011.6,"v":0.4},{"s":"Daegwallyeong","t":2011.9,"v":0.2},{"s":"Daegwallyeong","t":2012.2,"v":0.0},{"s":"Daegwallyeong","t":2012.5,"v":-0.5},{"s":"Daegwallyeong","t":2012.8,"v":-0.7},{"s":"Daegwallyeong","t":2013.1,"v":-1.0},{"s":"Daegwallyeong","t":2013.4,"v":-0.8},{"s":"Daegwallyeong","t":2013.7,"v":-1.0},{"s":"Daegwallyeong","t":2014.0,"v":-1.3},{"s":"Daegwallyeong","t":2014.3,"v":-1.5},{"s":"Daegwallyeong","t":2014.5,"v":-1.9},{"s":"Daegwallyeong","t":2014.8,"v":-0.8},{"s":"Daegwallyeong","t":2015.1,"v":-1.2},{"s":"Daegwallyeong","t":2015.4,"v":-1.5},{"s":"Daegwallyeong","t":2015.7,"v":-2.0},{"s":"Daegwallyeong","t":2016.0,"v":-1.7},
{"s":"RPC4","t":1981.0,"v":-0.6},{"s":"RPC4","t":1981.3,"v":-0.8},{"s":"RPC4","t":1981.6,"v":-1.3},{"s":"RPC4","t":1981.9,"v":-1.4},{"s":"RPC4","t":1982.2,"v":-1.3},{"s":"RPC4","t":1982.5,"v":-0.8},{"s":"RPC4","t":1982.8,"v":-1.0},{"s":"RPC4","t":1983.1,"v":-0.6},{"s":"RPC4","t":1983.4,"v":-0.3},{"s":"RPC4","t":1983.8,"v":-0.6},{"s":"RPC4","t":1984.1,"v":-0.2},{"s":"RPC4","t":1984.4,"v":-0.3},{"s":"RPC4","t":1984.8,"v":0.5},{"s":"RPC4","t":1985.1,"v":0.3},{"s":"RPC4","t":1985.4,"v":-0.8},{"s":"RPC4","t":1985.7,"v":-1.2},{"s":"RPC4","t":1986.0,"v":-1.4},{"s":"RPC4","t":1986.3,"v":-1.4},{"s":"RPC4","t":1986.6,"v":-0.7},{"s":"RPC4","t":1986.9,"v":-0.4},{"s":"RPC4","t":1987.2,"v":-0.2},{"s":"RPC4","t":1987.5,"v":-0.6},{"s":"RPC4","t":1987.8,"v":-0.8},{"s":"RPC4","t":1988.1,"v":-0.9},{"s":"RPC4","t":1988.4,"v":-1.0},{"s":"RPC4","t":1988.6,"v":0.5},{"s":"RPC4","t":1988.9,"v":1.8},{"s":"RPC4","t":1989.2,"v":2.0},{"s":"RPC4","t":1989.4,"v":2.5},{"s":"RPC4","t":1989.7,"v":0.6},{"s":"RPC4","t":1989.9,"v":-0.1},{"s":"RPC4","t":1990.2,"v":0.5},{"s":"RPC4","t":1990.5,"v":0.4},{"s":"RPC4","t":1990.8,"v":1.0},{"s":"RPC4","t":1991.1,"v":0.3},{"s":"RPC4","t":1991.4,"v":0.9},{"s":"RPC4","t":1991.7,"v":1.3},{"s":"RPC4","t":1992.0,"v":0.8},{"s":"RPC4","t":1992.3,"v":1.0},{"s":"RPC4","t":1992.6,"v":1.2},{"s":"RPC4","t":1992.9,"v":0.4},{"s":"RPC4","t":1993.2,"v":0.3},{"s":"RPC4","t":1993.5,"v":0.0},{"s":"RPC4","t":1993.8,"v":-0.9},{"s":"RPC4","t":1994.1,"v":-1.0},{"s":"RPC4","t":1994.4,"v":-0.6},{"s":"RPC4","t":1994.7,"v":-0.2},{"s":"RPC4","t":1995.0,"v":0.0},{"s":"RPC4","t":1995.3,"v":-0.3},{"s":"RPC4","t":1995.6,"v":-0.4},{"s":"RPC4","t":1995.9,"v":-0.6},{"s":"RPC4","t":1996.2,"v":-0.5},{"s":"RPC4","t":1996.5,"v":-0.8},{"s":"RPC4","t":1996.8,"v":-0.3},{"s":"RPC4","t":1997.1,"v":-0.5},{"s":"RPC4","t":1997.4,"v":0.3},{"s":"RPC4","t":1997.7,"v":0.2},{"s":"RPC4","t":1998.0,"v":-0.2},{"s":"RPC4","t":1998.3,"v":-0.4},{"s":"RPC4","t":1998.6,"v":1.5},{"s":"RPC4","t":1998.9,"v":2.0},{"s":"RPC4","t":1999.2,"v":1.8},{"s":"RPC4","t":1999.5,"v":1.6},{"s":"RPC4","t":1999.8,"v":0.6},{"s":"RPC4","t":2000.1,"v":0.9},{"s":"RPC4","t":2000.4,"v":0.7},{"s":"RPC4","t":2000.7,"v":0.4},{"s":"RPC4","t":2001.0,"v":-0.4},{"s":"RPC4","t":2001.3,"v":-0.3},{"s":"RPC4","t":2001.6,"v":-1.1},{"s":"RPC4","t":2001.9,"v":-0.7},{"s":"RPC4","t":2002.2,"v":-0.7},{"s":"RPC4","t":2002.5,"v":-0.4},{"s":"RPC4","t":2002.7,"v":1.5},{"s":"RPC4","t":2003.0,"v":1.5},{"s":"RPC4","t":2003.3,"v":2.5},{"s":"RPC4","t":2003.6,"v":1.3},{"s":"RPC4","t":2003.9,"v":2.0},{"s":"RPC4","t":2004.2,"v":1.2},{"s":"RPC4","t":2004.5,"v":1.7},{"s":"RPC4","t":2004.8,"v":0.8},{"s":"RPC4","t":2005.1,"v":0.5},{"s":"RPC4","t":2005.4,"v":0.5},{"s":"RPC4","t":2005.7,"v":0.2},{"s":"RPC4","t":2006.0,"v":0.6},{"s":"RPC4","t":2006.3,"v":0.8},{"s":"RPC4","t":2006.6,"v":1.8},{"s":"RPC4","t":2006.9,"v":1.5},{"s":"RPC4","t":2007.1,"v":1.8},{"s":"RPC4","t":2007.3,"v":2.4},{"s":"RPC4","t":2007.5,"v":0.2},{"s":"RPC4","t":2007.8,"v":0.0},{"s":"RPC4","t":2008.1,"v":0.1},{"s":"RPC4","t":2008.4,"v":0.3},{"s":"RPC4","t":2008.7,"v":0.0},{"s":"RPC4","t":2009.0,"v":-0.5},{"s":"RPC4","t":2009.3,"v":-1.3},{"s":"RPC4","t":2009.6,"v":-0.5},{"s":"RPC4","t":2009.9,"v":-1.0},{"s":"RPC4","t":2010.2,"v":-1.4},{"s":"RPC4","t":2010.5,"v":-1.6},{"s":"RPC4","t":2010.7,"v":-2.3},{"s":"RPC4","t":2011.0,"v":-2.3},{"s":"RPC4","t":2011.3,"v":-1.9},{"s":"RPC4","t":2011.6,"v":-0.2},{"s":"RPC4","t":2011.9,"v":0.2},{"s":"RPC4","t":2012.2,"v":-0.3},{"s":"RPC4","t":2012.5,"v":-0.6},{"s":"RPC4","t":2012.8,"v":-0.5},{"s":"RPC4","t":2013.1,"v":-0.6},{"s":"RPC4","t":2013.4,"v":-1.0},{"s":"RPC4","t":2013.7,"v":-0.7},{"s":"RPC4","t":2014.0,"v":-0.6},{"s":"RPC4","t":2014.3,"v":-0.1},{"s":"RPC4","t":2014.6,"v":0.1},{"s":"RPC4","t":2014.9,"v":0.0},{"s":"RPC4","t":2015.2,"v":-0.2},{"s":"RPC4","t":2015.5,"v":-0.8},{"s":"RPC4","t":2015.7,"v":-1.6},{"s":"RPC4","t":2015.9,"v":-0.8}
]
},
"resolve": {"scale": {"color": "independent"}, "legend": {"color": "independent"}},
"config": {
  "view": {"stroke": "#444444", "strokeWidth": 1},
  "font": "Liberation Sans",
  "axis": {"labelFont": "Liberation Sans", "labelFontSize": 7.5, "labelColor": "#333333", "tickColor": "#333333", "tickSize": 4, "domain": false, "grid": false, "titleFont": "Liberation Sans", "titleFontSize": 7, "titleFontWeight": "bold", "titleColor": "#111111"},
  "axisX": {"labelPadding": 4, "titlePadding": 8, "labelFlush": false, "labelOverlap": false},
  "axisY": {"labelAngle": 270, "labelAlign": "center", "labelBaseline": "alphabetic", "labelPadding": 5.5, "titlePadding": 6, "labelOverlap": false},
  "legend": {"orient": "none", "labelFont": "Liberation Sans", "labelFontSize": 7, "labelColor": "#222222", "symbolType": "M-2,0H2", "symbolSize": 64, "symbolStrokeWidth": 1, "rowPadding": 0, "labelOffset": 6, "padding": 0}
},
"vconcat": [
{"width": 270, "height": 103, "data": {"name": "p1"}, "mark": {"type": "line", "strokeWidth": 1},
 "encoding": {
  "x": {"field": "t", "type": "quantitative", "scale": {"domain": [1979.6, 2017.5], "nice": false, "zero": false}, "axis": {"values": [1980,1985,1990,1995,2000,2005,2010,2015], "format": "d", "title": "Time (year)"}},
  "y": {"field": "v", "type": "quantitative", "scale": {"domain": [-3.27, 3.29], "nice": false}, "axis": {"values": [-3,-2,-1,0,1,2,3], "labelExpr": "'' + datum.value", "title": "SPI-12"}},
  "color": {"field": "s", "type": "nominal", "scale": {"domain": ["Tongyeong", "RPC1"], "range": ["#1a1a1a", "#ff2020"]}, "legend": {"title": null, "legendX": 215, "legendY": 6.5}}
 }},
{"width": 270, "height": 103, "data": {"name": "p2"}, "mark": {"type": "line", "strokeWidth": 1},
 "encoding": {
  "x": {"field": "t", "type": "quantitative", "scale": {"domain": [1979.6, 2017.5], "nice": false, "zero": false}, "axis": {"values": [1980,1985,1990,1995,2000,2005,2010,2015], "format": "d", "title": "Time (year)"}},
  "y": {"field": "v", "type": "quantitative", "scale": {"domain": [-3.27, 3.29], "nice": false}, "axis": {"values": [-3,-2,-1,0,1,2,3], "labelExpr": "'' + datum.value", "title": "SPI-12"}},
  "color": {"field": "s", "type": "nominal", "scale": {"domain": ["Yangpyeong", "RPC2"], "range": ["#1a1a1a", "#ff2020"]}, "legend": {"title": null, "legendX": 171, "legendY": 3}}
 }},
{"width": 270, "height": 103, "data": {"name": "p3"}, "mark": {"type": "line", "strokeWidth": 1},
 "encoding": {
  "x": {"field": "t", "type": "quantitative", "scale": {"domain": [1979.6, 2017.5], "nice": false, "zero": false}, "axis": {"values": [1980,1985,1990,1995,2000,2005,2010,2015], "format": "d", "title": "Time (year)"}},
  "y": {"field": "v", "type": "quantitative", "scale": {"domain": [-3.27, 3.29], "nice": false}, "axis": {"values": [-3,-2,-1,0,1,2,3], "labelExpr": "'' + datum.value", "title": "SPI-12"}},
  "color": {"field": "s", "type": "nominal", "scale": {"domain": ["Gunsan", "RPC3"], "range": ["#1a1a1a", "#ff2020"]}, "legend": {"title": null, "legendX": 229, "legendY": 1}}
 }},
{"width": 270, "height": 103, "data": {"name": "p4"}, "mark": {"type": "line", "strokeWidth": 1},
 "encoding": {
  "x": {"field": "t", "type": "quantitative", "scale": {"domain": [1979.6, 2017.5], "nice": false, "zero": false}, "axis": {"values": [1980,1985,1990,1995,2000,2005,2010,2015], "format": "d", "title": "Time (year)"}},
  "y": {"field": "v", "type": "quantitative", "scale": {"domain": [-3.27, 3.29], "nice": false}, "axis": {"values": [-3,-2,-1,0,1,2,3], "labelExpr": "'' + datum.value", "title": "SPI-12"}},
  "color": {"field": "s", "type": "nominal", "scale": {"domain": ["Daegwallyeong", "RPC4"], "range": ["#1a1a1a", "#ff2020"]}, "legend": {"title": null, "legendX": 208, "legendY": 3}}
 }}
]
}
